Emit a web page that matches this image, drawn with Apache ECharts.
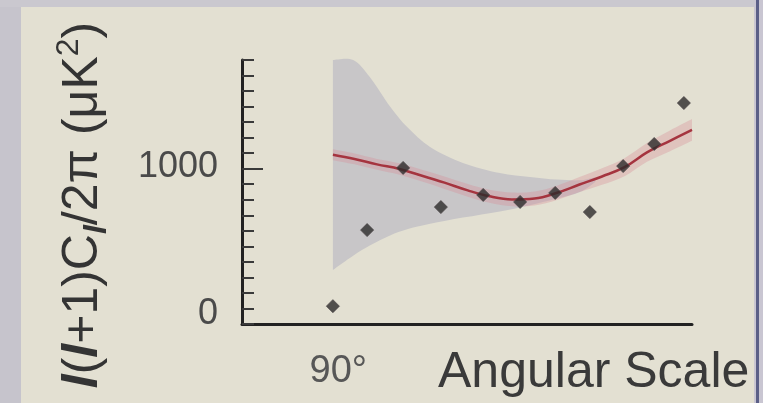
<!DOCTYPE html>
<html><head><meta charset="utf-8">
<script src="https://cdn.jsdelivr.net/npm/echarts@6/dist/echarts.min.js"></script>
<style>html,body{margin:0;padding:0;background:#e2dfd1}#c{width:763px;height:403px}</style>
</head><body><div id="c"></div>
<script>
// ---- data ----
const xLabelValues = [21.4];
const xLabelTexts = ['90°'];
const yLabelValues = [0, 1000];
const yMajorTickValues = [1000];

const pointX = [20.2, 27.8, 35.8, 44.2, 53.6, 61.8, 69.6, 77.3, 84.7, 91.6, 98.2];
const pointY = [115, 605, 1005, 753, 831, 786, 844, 721, 1017, 1159, 1423];

const curveX = [20.2, 25, 30, 35, 40, 45, 50, 55, 60, 65, 70, 75, 80, 85, 90, 95, 100];
const curveY = [1090, 1063, 1028, 998, 955, 910, 862, 822, 802, 808, 845, 898, 950, 1010, 1105, 1178, 1250];
const pinkUpper = [1125, 1098, 1063, 1035, 993, 950, 903, 864, 846, 853, 891, 946, 1003, 1068, 1165, 1245, 1320];
const pinkLower = [1055, 1028, 993, 961, 917, 870, 821, 780, 758, 763, 799, 850, 897, 952, 1045, 1111, 1180];

const grayX = [20.2, 24.7, 28.4, 32.9, 36.7, 41.8, 49.1, 57.3, 64, 70, 75.1, 78.5];
const grayUpper = [1700, 1700, 1590, 1400, 1268, 1140, 1037, 972, 947, 930, 925, 945];
const grayLower = [348, 440, 505, 570, 610, 645, 685, 725, 765, 808, 850, 915];

// ---- build ----
const FONT = 'Liberation Sans, Arial, Helvetica, sans-serif';
const pair = (xs, ys) => xs.map((x, i) => [x, ys[i]]);
const triple = (xs, lo, hi) => xs.map((x, i) => [x, lo[i], hi[i]]);

// smooth (Catmull-Rom) bezier segments through pixel points, for drawing only
function curveSeg(p) {
  let d = '';
  for (let i = 0; i < p.length - 1; i++) {
    const p0 = p[i - 1] || p[i], p1 = p[i], p2 = p[i + 1], p3 = p[i + 2] || p[i + 1];
    const c1 = [p1[0] + (p2[0] - p0[0]) / 6, p1[1] + (p2[1] - p0[1]) / 6];
    const c2 = [p2[0] - (p3[0] - p1[0]) / 6, p2[1] - (p3[1] - p1[1]) / 6];
    d += ' C' + c1[0] + ',' + c1[1] + ' ' + c2[0] + ',' + c2[1] + ' ' + p2[0] + ',' + p2[1];
  }
  return d;
}
function bandRenderer(xs, lo, hi, fill) {
  return function (params, api) {
    if (params.dataIndex !== 0) return null;
    const up = xs.map((x, i) => api.coord([x, hi[i]]));
    const dn = xs.map((x, i) => api.coord([x, lo[i]])).reverse();
    const d = 'M' + up[0][0] + ',' + up[0][1] + curveSeg(up) +
      ' L' + dn[0][0] + ',' + dn[0][1] + curveSeg(dn) + ' Z';
    return { type: 'path', shape: { pathData: d }, style: { fill: fill } };
  };
}

const chart = echarts.init(document.getElementById('c'));
chart.setOption({
  backgroundColor: '#e3e0d2',
  animation: false,
  grid: { left: 242, right: 71, top: 60, bottom: 79 },
  title: {
    text: 'Angular Scale', left: 433, top: 343,
    textStyle: { fontFamily: FONT, fontSize: 50, fontWeight: 'normal', color: '#3a3a3a' }
  },
  graphic: [
    { type: 'rect', z: -10, shape: { x: 0, y: 0, width: 21, height: 403 }, style: { fill: '#c6c4cc' } },
    { type: 'rect', z: -10, shape: { x: 0, y: 0, width: 763, height: 7 }, style: { fill: '#cac8cf' } },
    { type: 'rect', z: -10, shape: { x: 754, y: 0, width: 9, height: 403 }, style: { fill: '#c9c6d2' } },
    { type: 'rect', z: -9, shape: { x: 756, y: 0, width: 3, height: 403 }, style: { fill: '#5b5f87' } },
    {
      type: 'text', x: 83, y: 205, rotation: Math.PI / 2,
      style: {
        text: '{i|l}{n|(}{i|l}{n|+1)C}{s|l}{n|/2π (μK}{p|2}{n|)}',
        align: 'center', verticalAlign: 'middle', textAlign: 'center', textVerticalAlign: 'middle',
        fill: '#333',
        rich: {
          n: { fontFamily: FONT, fontSize: 50, lineHeight: 60, fill: '#343434' },
          i: { fontFamily: FONT, fontSize: 50, lineHeight: 60, fontStyle: 'italic', fontWeight: 'bold', fill: '#343434' },
          s: { fontFamily: FONT, fontSize: 32, lineHeight: 32, fontStyle: 'italic', fontWeight: 'bold', verticalAlign: 'bottom', fill: '#343434' },
          p: { fontFamily: FONT, fontSize: 32, lineHeight: 32, verticalAlign: 'top', fill: '#343434' }
        }
      }
    }
  ],
  xAxis: {
    type: 'value', min: 0, max: 100,
    splitLine: { show: false },
    axisTick: { show: false },
    axisLine: { lineStyle: { color: '#222', width: 3 } },
    axisLabel: {
      customValues: xLabelValues,
      formatter: v => xLabelTexts[xLabelValues.indexOf(v)] || '',
      margin: 29, fontFamily: FONT, fontSize: 38, color: '#575757'
    }
  },
  yAxis: [
    {
      type: 'value', min: 0, max: 1700, interval: 100,
      splitLine: { show: false },
      axisLine: { show: true, lineStyle: { color: '#222', width: 3 } },
      axisTick: { show: true, inside: true, length: 12, lineStyle: { color: '#3a3a3a', width: 2 } },
      axisLabel: {
        customValues: yLabelValues,
        margin: 24,
        formatter: v => (v === 0 ? '{z|0}' : '{k|' + v + '}'),
        rich: {
          z: { fontFamily: FONT, fontSize: 36, color: '#4a4a4a', padding: [0, 0, 20, 0] },
          k: { fontFamily: FONT, fontSize: 36, color: '#4a4a4a', padding: [0, 0, 3, 0] }
        }
      }
    },
    {
      type: 'value', min: 0, max: 1700, position: 'left', offset: 0,
      splitLine: { show: false },
      axisLine: { show: false },
      axisLabel: { show: false },
      axisTick: { show: true, inside: true, length: 21, customValues: yMajorTickValues, lineStyle: { color: '#3a3a3a', width: 2 } }
    }
  ],
  series: [
    {
      type: 'custom', data: triple(grayX, grayLower, grayUpper), encode: { x: 0, y: [1, 2] },
      renderItem: bandRenderer(grayX, grayLower, grayUpper, '#c8c6c8'), z: 1, silent: true
    },
    {
      type: 'custom', data: triple(curveX, pinkLower, pinkUpper), encode: { x: 0, y: [1, 2] },
      renderItem: bandRenderer(curveX, pinkLower, pinkUpper, 'rgba(214,140,152,0.35)'), z: 2, silent: true
    },
    {
      type: 'line', data: pair(curveX, curveY), smooth: 0.4, symbol: 'none',
      lineStyle: { color: '#a5343f', width: 2.5 }, z: 3
    },
    {
      type: 'scatter', data: pair(pointX, pointY), symbol: 'diamond', symbolSize: [13, 13],
      itemStyle: { color: '#2c2a2b', borderColor: '#4a4445', borderWidth: 1 }, z: 4
    }
  ]
});
</script>
</body></html>
